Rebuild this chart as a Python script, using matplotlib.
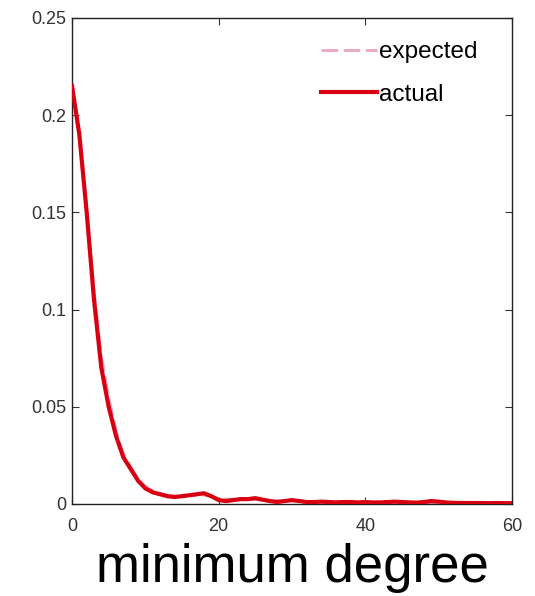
import numpy as np
import matplotlib
matplotlib.use('Agg')
from matplotlib import pyplot as plt

plt.rcParams['font.family'] = ['Liberation Sans', 'DejaVu Sans']

# degree values
degree = list(range(0, 61))

actual = [0.215, 0.190, 0.150, 0.105, 0.070, 0.050, 0.035, 0.024, 0.018, 0.012,
          0.008, 0.006, 0.005, 0.004, 0.0036, 0.004, 0.0045, 0.005, 0.0055, 0.004,
          0.002, 0.0015, 0.002, 0.0025, 0.0025, 0.003, 0.0022, 0.0015, 0.001, 0.0015,
          0.002, 0.0015, 0.001, 0.001, 0.0012, 0.001, 0.0008, 0.001, 0.001, 0.0008,
          0.001, 0.0008, 0.0008, 0.001, 0.0012, 0.001, 0.0008, 0.0007, 0.001, 0.0015,
          0.0012, 0.0008, 0.0006, 0.0005, 0.0005, 0.0005, 0.0005, 0.0004, 0.0005, 0.0004,
          0.0004]

expected = [0.213, 0.188, 0.152, 0.110, 0.076, 0.055, 0.038, 0.026, 0.019, 0.013,
            0.009, 0.007, 0.0055, 0.0045, 0.004, 0.004, 0.0042, 0.0045, 0.0045, 0.0038,
            0.003, 0.0025, 0.0025, 0.0024, 0.0023, 0.0022, 0.002, 0.0018, 0.0017, 0.0016,
            0.0015, 0.0014, 0.0013, 0.0012, 0.0012, 0.0011, 0.001, 0.001, 0.001, 0.0009,
            0.0009, 0.0009, 0.0008, 0.0008, 0.0008, 0.0008, 0.0007, 0.0007, 0.0007, 0.0007,
            0.0006, 0.0006, 0.0006, 0.0006, 0.0005, 0.0005, 0.0005, 0.0005, 0.0005, 0.0004,
            0.0004]

fig = plt.figure(figsize=(5.35, 5.96), dpi=100)
ax = fig.add_axes([0.1346, 0.1544, 0.8224, 0.8156])

ax.plot(degree, expected, '--', color='#eaa6c4', lw=2, dashes=(6, 2), label='expected', zorder=2)
ax.plot(degree, actual, '-', color='#d80010', lw=3, label='actual', zorder=3)

ax.set_xlim(0, 60)
ax.set_ylim(0, 0.25)
ax.set_xticks([0, 20, 40, 60])
ax.set_yticks([0, 0.05, 0.1, 0.15, 0.2, 0.25])
ax.set_yticklabels(['0', '0.05', '0.1', '0.15', '0.2', '0.25'])
ax.tick_params(direction='in', top=True, right=True, labelsize=13, length=5, colors='#333333')
ax.tick_params(axis='x', pad=10)
ax.tick_params(axis='y', pad=4)
for s in ax.spines.values():
    s.set_color('#222222')
    s.set_linewidth(1)

ax.set_xlabel('minimum degree', fontsize=38, labelpad=6)

leg = ax.legend(loc='upper left', bbox_to_anchor=(0.566, 0.952), frameon=False, fontsize=17.5,
                handlelength=2.3, handletextpad=0.1, labelspacing=0.85,
                borderaxespad=0, borderpad=0)

fig.savefig('out.png', dpi=100)
